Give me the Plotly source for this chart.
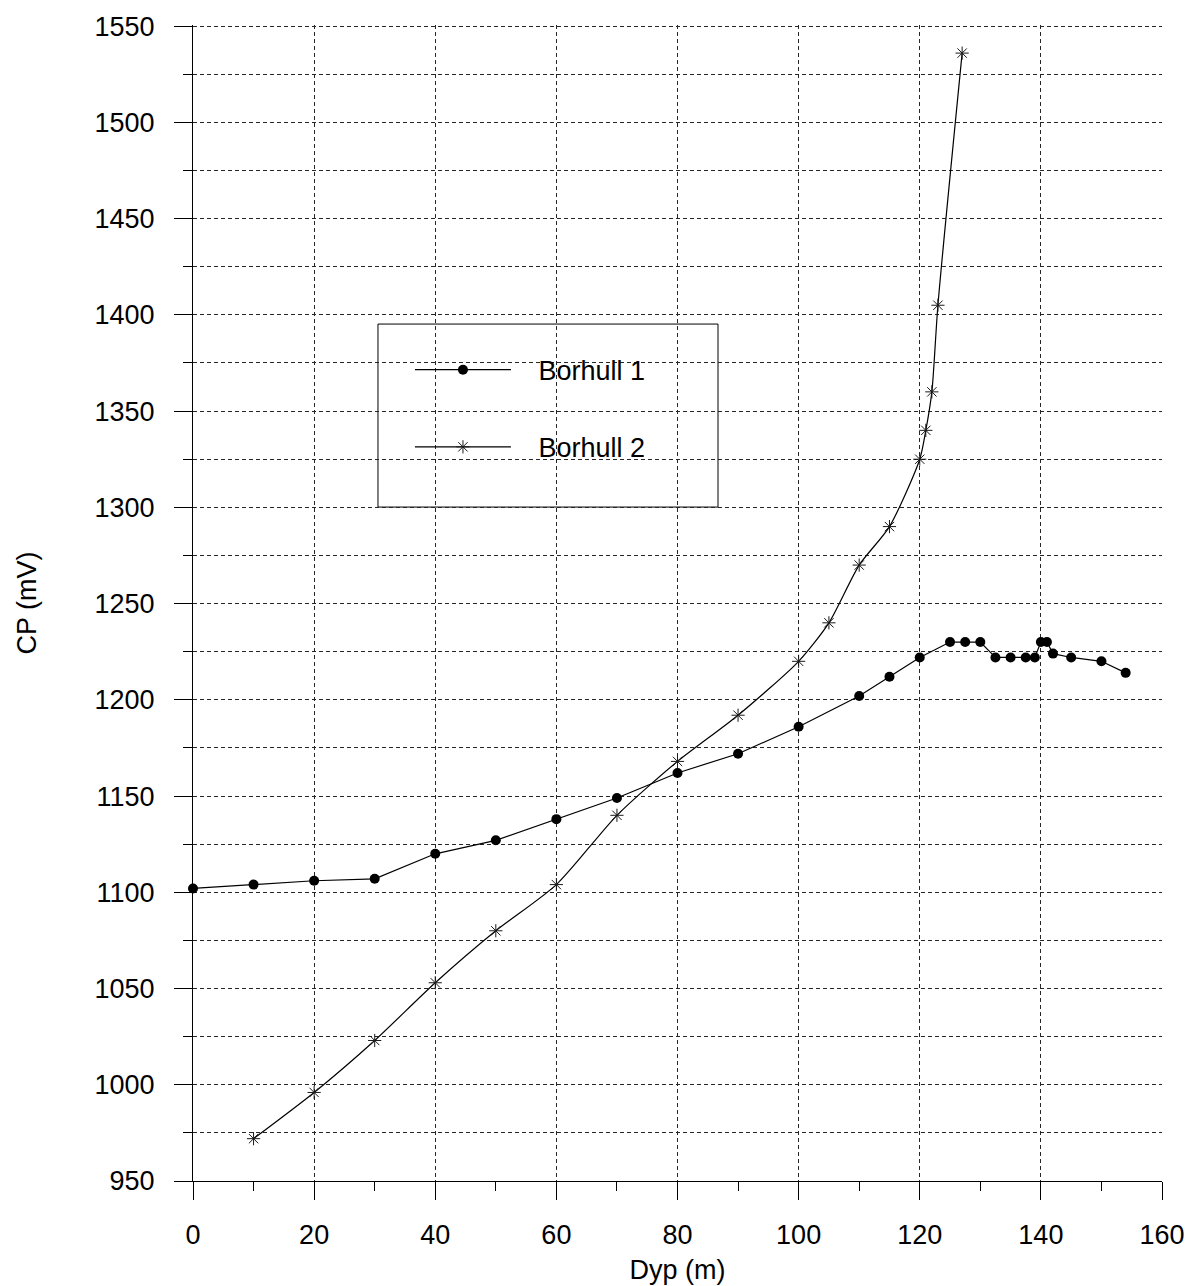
import plotly.graph_objects as go

# Borhull 1
b1_depth = [0, 10, 20, 30, 40, 50, 60, 70, 80, 90, 100, 110, 115, 120, 125, 127.5, 130,
            132.5, 135, 137.5, 139, 140, 141, 142, 145, 150, 154]
b1_cp = [1102, 1104, 1106, 1107, 1120, 1127, 1138, 1149, 1162, 1172, 1186, 1202, 1212, 1222,
         1230, 1230, 1230, 1222, 1222, 1222, 1222, 1230, 1230, 1224, 1222, 1220, 1214]

# Borhull 2
b2_depth = [10, 20, 30, 40, 50, 60, 70, 80, 90, 100, 105, 110, 115, 120, 121, 122, 123, 127]
b2_cp = [972, 996, 1023, 1053, 1080, 1104, 1140, 1168, 1192, 1220, 1240, 1270, 1290, 1325,
         1340, 1360, 1405, 1536]

series_names = ["Borhull 1", "Borhull 2"]
x_title = "Dyp (m)"
y_title = "CP (mV)"

FONT = "Arial, Liberation Sans, sans-serif"
GRID = "#262626"
DASH = "4px,3px"
GAP = "\u00a0" * 3  # spacing between legend symbol and label

fig = go.Figure()
fig.add_trace(go.Scatter(
    x=b1_depth, y=b1_cp, name=GAP + series_names[0], mode="lines+markers",
    line=dict(color="black", width=1.2),
    marker=dict(symbol="circle", size=10, color="black"),
    cliponaxis=False, legendgroup="a",
))
fig.add_trace(go.Scatter(
    x=b2_depth, y=b2_cp, name=GAP + series_names[1], mode="lines+markers",
    line=dict(color="black", width=1.2, shape="spline", smoothing=0.7),
    marker=dict(symbol="asterisk-open", size=11, color="#1a1a1a",
                line=dict(width=1, color="#1a1a1a")),
    cliponaxis=False, legendgroup="b",
))

# legend frame
fig.add_shape(type="rect", xref="paper", yref="paper",
              x0=0.1909, x1=0.5418, y0=0.5830, y1=0.7413,
              line=dict(color="black", width=1), fillcolor="white", layer="between")

fig.update_layout(
    width=1192, height=1286,
    margin=dict(l=193, r=30, t=25, b=105),
    paper_bgcolor="white", plot_bgcolor="white",
    font=dict(family=FONT, size=27, color="black"),
    showlegend=True,
    legend=dict(
        x=0.2239, y=0.7226, xanchor="left", yanchor="top",
        bgcolor="rgba(0,0,0,0)", borderwidth=0,
        font=dict(size=27), itemwidth=96, tracegroupgap=39,
    ),
    xaxis=dict(
        range=[0, 160], dtick=20, tick0=0,
        showline=True, linecolor="black", linewidth=1,
        ticks="outside", ticklen=18, tickwidth=1, tickcolor="black",
        ticklabelstandoff=12,
        showgrid=True, gridcolor=GRID, gridwidth=1, griddash=DASH,
        zeroline=False, automargin=False,
        minor=dict(dtick=10, ticklen=9, tickcolor="black", ticks="outside", showgrid=False),
        title=dict(text=x_title, standoff=10, font=dict(size=27)),
    ),
    yaxis=dict(
        range=[950, 1550.6], dtick=50, tick0=950,
        showline=True, linecolor="black", linewidth=1,
        ticks="outside", ticklen=18, tickwidth=1, tickcolor="black",
        ticklabelstandoff=14,
        showgrid=True, gridcolor=GRID, gridwidth=1, griddash=DASH,
        zeroline=False, automargin=False,
        minor=dict(dtick=25, ticklen=9, tickcolor="black", ticks="outside",
                   showgrid=True, gridcolor=GRID, gridwidth=1, griddash=DASH),
        title=dict(text=y_title, standoff=50, font=dict(size=27)),
    ),
)

fig.write_html("out.html")
